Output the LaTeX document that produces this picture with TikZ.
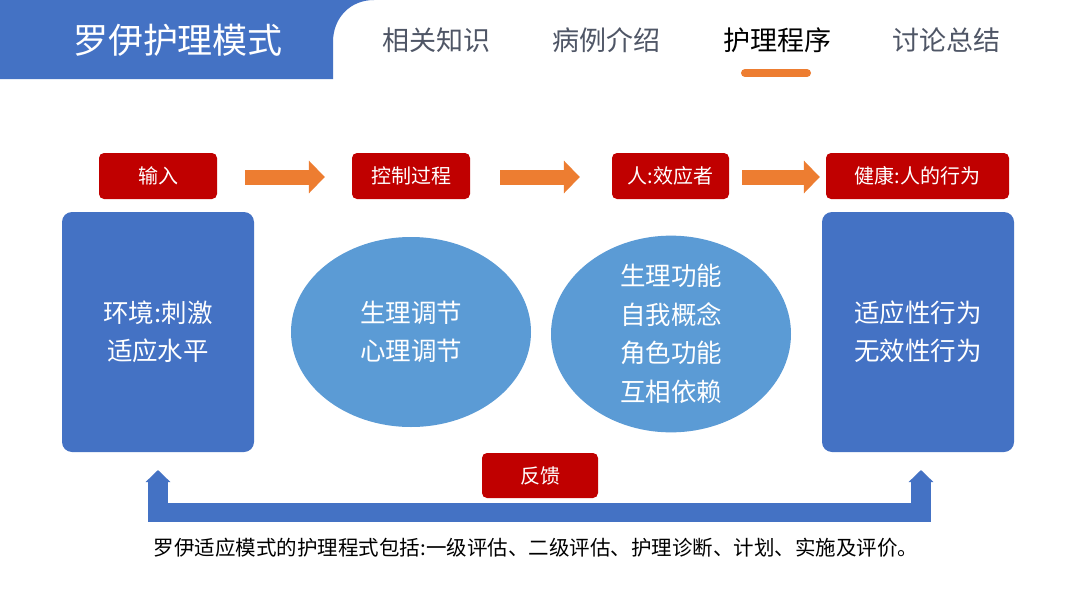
\documentclass[tikz,border=0pt]{standalone}
\usepackage{fontspec}
\setmainfont{Noto Sans CJK SC}
\usepackage{xcolor}
\usepackage{tikz}
\usetikzlibrary{arrows.meta,shapes,shapes.geometric}

\definecolor{hdrblue}{HTML}{4472C4}
\definecolor{boxred}{HTML}{C00000}
\definecolor{ovalblue}{HTML}{5B9BD5}
\definecolor{arrorange}{HTML}{ED7D31}
\definecolor{tabgray}{HTML}{4F5666}

\begin{document}
\begin{tikzpicture}[x=1pt,y=-1pt]
\tikzstyle{redbox}=[fill=boxred,rounded corners=5pt,text=white,minimum height=46pt,inner sep=0pt,font=\fontsize{20}{23}\selectfont];
\tikzstyle{bluebox}=[fill=hdrblue,rounded corners=10pt,text=white,minimum width=192pt,minimum height=240pt,inner sep=0pt,align=center,font=\fontsize{25.5}{38}\selectfont];
\tikzstyle{blueoval}=[ellipse,fill=ovalblue,text=white,minimum width=240pt,minimum height=190pt,inner sep=0pt,align=center,font=\fontsize{25.5}{38.5}\selectfont];
\tikzstyle{flowarrow}=[draw=arrorange,line width=15pt,-{Triangle[length=16pt,width=32pt]}];
\tikzstyle{fbarrow}=[draw=hdrblue,line width=19.5pt,line join=miter,{Triangle[length=12pt,width=24pt]}-{Triangle[length=12pt,width=24pt]}];
\tikzstyle{tab}=[text=tabgray,font=\fontsize{27}{30}\selectfont];

\useasboundingbox (0,0) rectangle (1080,608);
\fill[white] (0,0) rectangle (1080,608);

% header
\fill[hdrblue] (0,0) -- (374,0) .. controls (350,0) and (333,18) .. (333,42) -- (333,79) -- (0,79) -- cycle;
\node[text=white,font=\fontsize{35}{40}\selectfont] (title) at (178,40) {罗伊护理模式};
\node[tab] (tab1) at (436,40) {相关知识};
\node[tab] (tab2) at (606,40) {病例介绍};
\node[tab,text=black] (tab3) at (777,40) {护理程序};
\node[tab] (tab4) at (946,40) {讨论总结};
\draw[arrorange,line width=8pt,line cap=round] (745,73) -- (807,73);

% top row
\node[redbox,minimum width=118pt] (in) at (158,176) {输入};
\node[redbox,minimum width=118pt] (ctl) at (411,176) {控制过程};
\node[redbox,minimum width=117pt] (eff) at (670.5,176) {人:效应者};
\node[redbox,minimum width=183pt] (hlt) at (917.5,176) {健康:人的行为};

\path[flowarrow] ([yshift=-1pt]in.east) [shorten <=28pt,shorten >=27pt] -- ([yshift=-1pt]ctl.west);
\path[flowarrow] ([yshift=-1pt]ctl.east) [shorten <=30pt,shorten >=32pt] -- ([yshift=-1pt]eff.west);
\path[flowarrow] ([yshift=-1pt]eff.east) [shorten <=13pt,shorten >=6pt] -- ([yshift=-1pt]hlt.west);

% middle row
\node[bluebox] (env) at (158,332) {环境:刺激\\适应水平};
\node[blueoval] (reg) at (411,332) {生理调节\\心理调节};
\node[blueoval] (mode) at (671,334) {生理功能\\自我概念\\角色功能\\互相依赖};
\node[bluebox] (beh) at (918,332) {适应性行为\\无效性行为};

% feedback
\coordinate (fbR) at (921,470);
\coordinate (fbL) at (158,470);
\path[fbarrow] (fbR) -- (921,512.5) -| (fbL);
\node[redbox,minimum width=116pt,minimum height=45pt] (fb) at (540,475.5) {反馈};

\node[text=black,font=\fontsize{20.5}{24}\selectfont] (note) at (536,548) {罗伊适应模式的护理程式包括:一级评估、二级评估、护理诊断、计划、实施及评价。};
\end{tikzpicture}
\end{document}
